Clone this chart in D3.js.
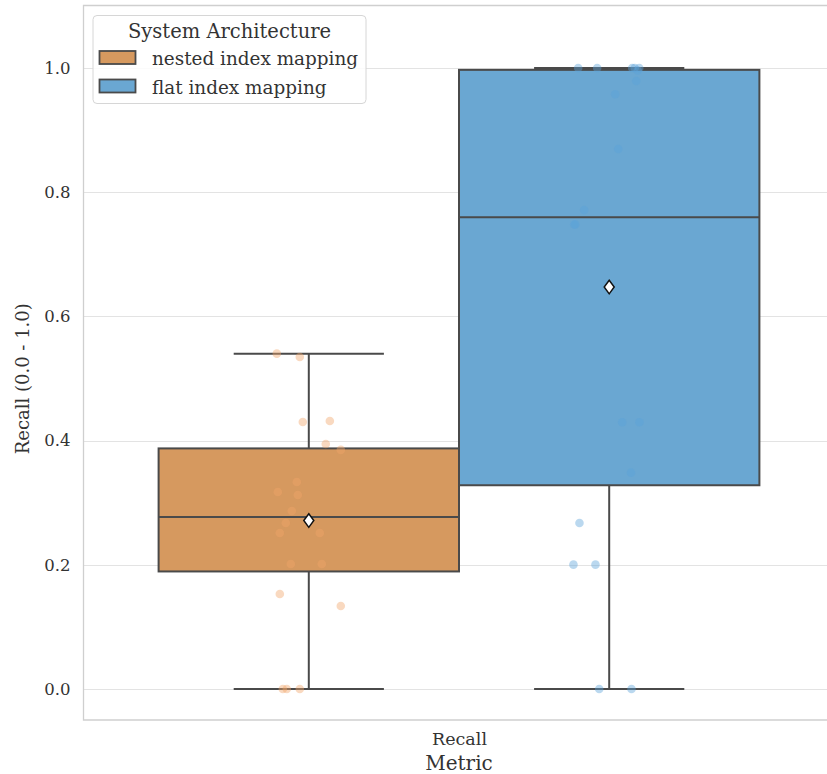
<!DOCTYPE html>
<html>
<head>
<meta charset="utf-8">
<script src="https://cdn.jsdelivr.net/npm/d3@7"></script>
<style>
  html, body { margin: 0; padding: 0; background: #fff; }
  svg { display: block; font-family: "DejaVu Serif", serif; }
</style>
</head>
<body>
<svg id="chart" width="827" height="774"></svg>
<script>
// ---- data ----
const categories = ["Recall"];
const seriesNames = ["nested index mapping", "flat index mapping"];
const seriesColors = ["#d6995f", "#6aa7d2"];
const pointColors = ["#f0a468", "#5aa2d8"];
const nestedValues = [0.54, 0.5346, 0.430, 0.4316, 0.3945, 0.385, 0.3333, 0.3172, 0.3124, 0.2866,
                      0.2673, 0.2512, 0.2512, 0.2013, 0.2013, 0.153, 0.1337, 0, 0, 0];
const nestedJitter = [-0.0426, -0.012, -0.008, 0.028, 0.0226, 0.0426, -0.016, -0.0413, -0.0146, -0.0226,
                      -0.0306, -0.0386, 0.0146, -0.024, 0.0173, -0.0386, 0.0426, -0.0346, -0.0293, -0.012];
const flatValues = [1.0, 1.0, 1.0, 1.0, 1.0, 0.996, 0.979, 0.9577, 0.8696, 0.7713,
                    0.748, 0.748, 0.4295, 0.4295, 0.3483, 0.2673, 0.2002, 0.2002, 0, 0];
const flatJitter = [-0.0413, -0.016, 0.0306, 0.04, 0.034, 0.038, 0.036, 0.008, 0.012, -0.0333,
                    -0.0466, -0.045, 0.0173, 0.0403, 0.029, -0.0396, -0.0476, -0.0183, -0.0133, 0.0297];
const yTicks = [0.0, 0.2, 0.4, 0.6, 0.8, 1.0];
const yLabel = "Recall (0.0 - 1.0)";
const xLabel = "Metric";
const legendTitle = "System Architecture";

const groups = [
  { name: seriesNames[0], values: nestedValues, jitter: nestedJitter, color: seriesColors[0], pcolor: pointColors[0] },
  { name: seriesNames[1], values: flatValues, jitter: flatJitter, color: seriesColors[1], pcolor: pointColors[1] }
];

// ---- layout ----
const svg = d3.select("#chart");
const pLeft = 83.5, pRight = 834.5, pTop = 5.5, pBottom = 720;
const x = d3.scaleLinear().domain([-0.5, 0.5]).range([pLeft, pRight]);
const y = d3.scaleLinear().domain([-0.05, 1.1]).range([pBottom, pTop + 0.4]);
const catIndex = 0;
const dodge = [-0.2, 0.2];
const boxW = 0.4;

// grid
svg.append("g").selectAll("line").data(yTicks).join("line")
  .attr("x1", pLeft).attr("x2", 827)
  .attr("y1", d => Math.round(y(d)) + 0.5).attr("y2", d => Math.round(y(d)) + 0.5)
  .attr("stroke", "#e3e3e3").attr("stroke-width", 1);

// spines
svg.append("path")
  .attr("d", `M${827},${pTop} H${pLeft} V${pBottom} H${827}`)
  .attr("fill", "none").attr("stroke", "#cfcfcf").attr("stroke-width", 1.3);

// y axis labels
const yAxis = d3.axisLeft(y).tickValues(yTicks).tickFormat(d3.format(".1f")).tickSize(0).tickPadding(13);
const yg = svg.append("g").attr("transform", `translate(${pLeft},0)`).call(yAxis);
yg.select(".domain").remove();
yg.selectAll("text").attr("font-family", "DejaVu Serif").attr("font-size", 16.5).attr("fill", "#333");

// x axis
const xAxis = d3.axisBottom(x).tickValues([catIndex]).tickFormat(i => categories[i]).tickSize(0).tickPadding(13);
const xg = svg.append("g").attr("transform", `translate(0,${pBottom})`).call(xAxis);
xg.select(".domain").remove();
xg.selectAll("text").attr("font-family", "DejaVu Serif").attr("font-size", 17.5).attr("fill", "#333");

svg.append("text").attr("x", x(catIndex)).attr("y", 770)
  .attr("text-anchor", "middle").attr("font-size", 20).attr("fill", "#333").text(xLabel);
svg.append("text").attr("transform", `translate(29,${(pTop + pBottom) / 2 + 16}) rotate(-90)`)
  .attr("text-anchor", "middle").attr("font-size", 18).attr("fill", "#333").text(yLabel);

// boxes
const edge = "#4a4a4a";
groups.forEach((g, i) => {
  const sorted = g.values.slice().sort(d3.ascending);
  const q1 = d3.quantile(sorted, 0.25), med = d3.quantile(sorted, 0.5), q3 = d3.quantile(sorted, 0.75);
  const iqr = q3 - q1;
  const lo = d3.min(sorted.filter(v => v >= q1 - 1.5 * iqr));
  const hi = d3.max(sorted.filter(v => v <= q3 + 1.5 * iqr));
  const mean = d3.mean(sorted);
  const c = catIndex + dodge[i];
  const gg = svg.append("g");
  gg.append("line").attr("x1", x(c)).attr("x2", x(c)).attr("y1", y(q1)).attr("y2", y(lo))
    .attr("stroke", edge).attr("stroke-width", 2);
  gg.append("line").attr("x1", x(c)).attr("x2", x(c)).attr("y1", y(q3)).attr("y2", y(hi))
    .attr("stroke", edge).attr("stroke-width", 2);
  [lo, hi].forEach(v => gg.append("line")
    .attr("x1", x(c - boxW / 4)).attr("x2", x(c + boxW / 4)).attr("y1", y(v)).attr("y2", y(v))
    .attr("stroke", edge).attr("stroke-width", 2));
  gg.append("rect").attr("x", x(c - boxW / 2)).attr("y", y(q3))
    .attr("width", x(c + boxW / 2) - x(c - boxW / 2)).attr("height", y(q1) - y(q3))
    .attr("fill", g.color).attr("stroke", edge).attr("stroke-width", 2);
  gg.append("line").attr("x1", x(c - boxW / 2)).attr("x2", x(c + boxW / 2))
    .attr("y1", y(med)).attr("y2", y(med)).attr("stroke", edge).attr("stroke-width", 2);
  g.stats = { mean, c };
});

// strip points
groups.forEach((g, i) => {
  const c = catIndex + dodge[i];
  svg.append("g").selectAll("circle").data(g.values).join("circle")
    .attr("cx", (d, k) => x(c + g.jitter[k]))
    .attr("cy", d => y(d))
    .attr("r", 4.3)
    .attr("fill", g.pcolor).attr("fill-opacity", 0.42);
});

// mean diamonds
groups.forEach(g => {
  const cx = x(g.stats.c), cy = y(g.stats.mean);
  svg.append("path")
    .attr("d", `M${cx},${cy - 6.8} L${cx + 5},${cy} L${cx},${cy + 6.8} L${cx - 5},${cy} Z`)
    .attr("fill", "#fff").attr("stroke", "#111").attr("stroke-width", 1.5);
});

// legend
const lg = svg.append("g");
lg.append("rect").attr("x", 93).attr("y", 15.5).attr("width", 273).attr("height", 88).attr("rx", 4)
  .attr("fill", "#fff").attr("fill-opacity", 0.85).attr("stroke", "#d6d6d6").attr("stroke-width", 1);
lg.append("text").attr("x", 229.5).attr("y", 37.5).attr("text-anchor", "middle")
  .attr("font-size", 19.5).attr("fill", "#333").text(legendTitle);
groups.forEach((g, i) => {
  const yy = 51 + i * 28.5;
  lg.append("rect").attr("x", 99.5).attr("y", yy).attr("width", 36).attr("height", 13)
    .attr("fill", g.color).attr("stroke", edge).attr("stroke-width", 1.8);
  lg.append("text").attr("x", 152).attr("y", yy + 14).attr("font-size", 18.4).attr("fill", "#333").text(g.name);
});
</script>
</body>
</html>
